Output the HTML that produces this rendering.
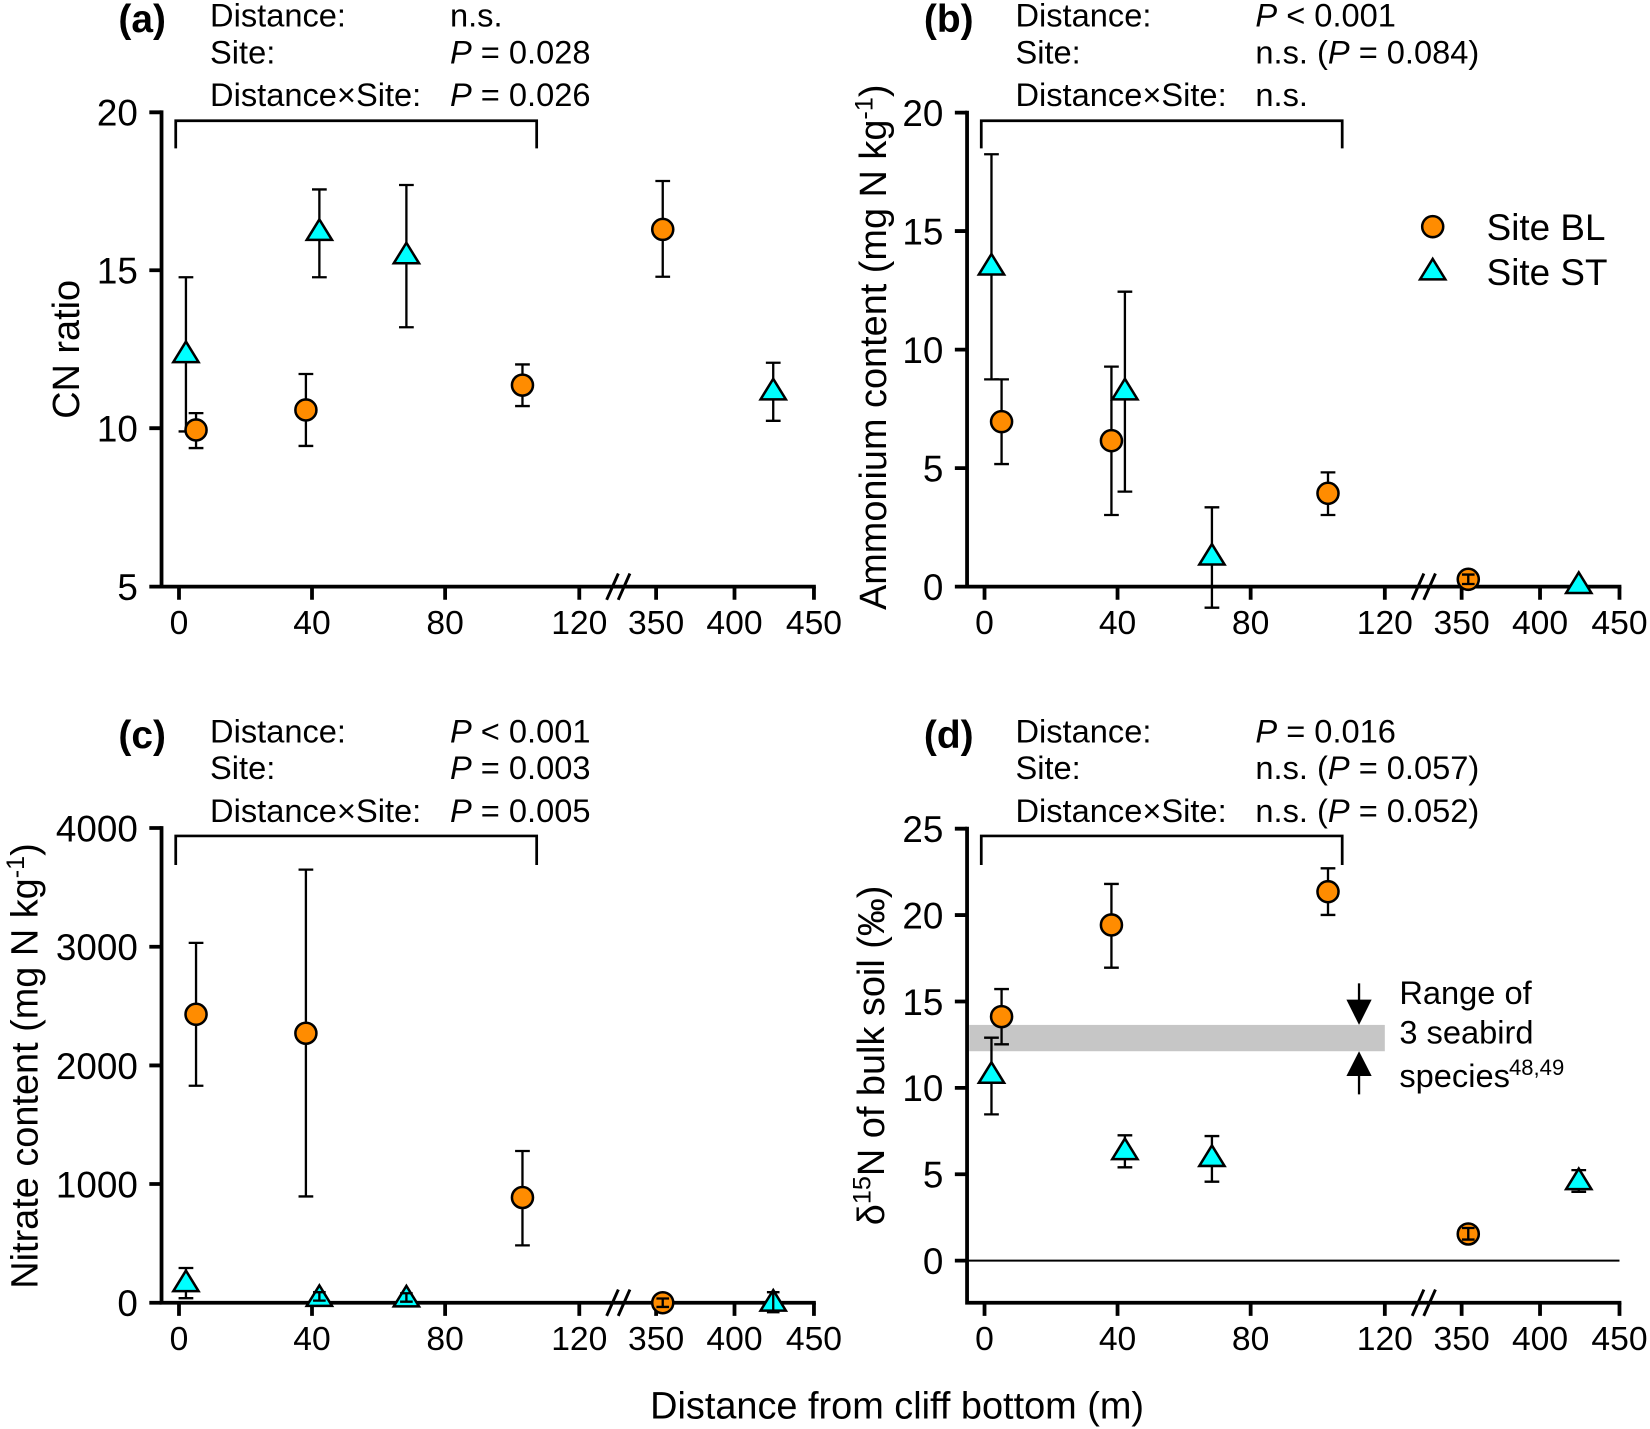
<!DOCTYPE html>
<html>
<head>
<meta charset="utf-8">
<style>
html,body{margin:0;padding:0;background:#fff;}
svg{display:block;}
text{font-family:"Liberation Sans",Arial,sans-serif;fill:#000;}
</style>
</head>
<body>
<svg width="1650" height="1429" viewBox="0 0 1568 1358" preserveAspectRatio="none" xmlns="http://www.w3.org/2000/svg">
<defs>
<circle id="c" cx="0" cy="0" r="10" fill="#ff8c00" stroke="#000" stroke-width="2.4"/>
<path id="t" d="M0,-10 L12,9.5 L-12,9.5 Z" fill="#00ffff" stroke="#000" stroke-width="2.4" stroke-linejoin="miter"/>
</defs>
<rect x="0" y="0" width="1568" height="1358" fill="#fff"/>

<!-- gray band and zero line (d) -->
<rect x="921" y="974" width="395" height="25" fill="#c6c6c6"/>
<line x1="919" y1="1198" x2="1539" y2="1198" stroke="#000" stroke-width="2"/>

<!-- ===== AXES ===== -->
<g fill="none" stroke="#000" stroke-width="3.6">
  <!-- (a) -->
  <path d="M153.5,104.9V559.3 M151.7,557.5H775.3"/>
  <path d="M141.9,106.75H153.5 M141.9,256.8H153.5 M141.9,406.9H153.5 M141.9,557.5H153.5"/>
  <path d="M170.1,557.5V570 M296.5,557.5V570 M423,557.5V570 M550.5,557.5V570 M623.5,557.5V570 M698,557.5V570 M773.5,557.5V570"/>
  <!-- (b) -->
  <path d="M919,105.2V559.3 M917.2,557.5H1540.8"/>
  <path d="M907.4,107H919 M907.4,219.6H919 M907.4,332.25H919 M907.4,444.9H919 M907.4,557.5H919"/>
  <path d="M935.6,557.5V570 M1062,557.5V570 M1188.5,557.5V570 M1316,557.5V570 M1389,557.5V570 M1463.5,557.5V570 M1539,557.5V570"/>
  <!-- (c) -->
  <path d="M153.5,785.1V1239.8 M151.7,1238H775.3"/>
  <path d="M141.9,786.9H153.5 M141.9,899.7H153.5 M141.9,1012.5H153.5 M141.9,1125.2H153.5 M141.9,1238H153.5"/>
  <path d="M170.1,1238V1250.5 M296.5,1238V1250.5 M423,1238V1250.5 M550.5,1238V1250.5 M623.5,1238V1250.5 M698,1238V1250.5 M773.5,1238V1250.5"/>
  <!-- (d) -->
  <path d="M919,785.7V1239.8 M917.2,1238H1540.8"/>
  <path d="M907.4,787.5H919 M907.4,869.6H919 M907.4,951.7H919 M907.4,1033.8H919 M907.4,1115.9H919 M907.4,1198H919"/>
  <path d="M935.6,1238V1250.5 M1062,1238V1250.5 M1188.5,1238V1250.5 M1316,1238V1250.5 M1389,1238V1250.5 M1463.5,1238V1250.5 M1539,1238V1250.5"/>
</g>
<!-- axis breaks -->
<g fill="none" stroke="#000" stroke-width="2.8">
  <path d="M576.5,570L587.6,545 M587.5,570L598.6,545"/>
  <path d="M1342,570L1353.1,545 M1353,570L1364.1,545"/>
  <path d="M576.5,1250.5L587.6,1225.5 M587.5,1250.5L598.6,1225.5"/>
  <path d="M1342,1250.5L1353.1,1225.5 M1353,1250.5L1364.1,1225.5"/>
</g>
<!-- brackets -->
<g fill="none" stroke="#000" stroke-width="2.6">
  <path d="M167,141V114.7H510V141"/>
  <path d="M932.5,141V114.7H1275.5V141"/>
  <path d="M167,822V794.4H510V822"/>
  <path d="M932.5,822V794.4H1275.5V822"/>
</g>

<!-- ===== TICK LABELS ===== -->
<g font-size="35" text-anchor="end">
  <text x="131" y="119.5">20</text><text x="131" y="269.5">15</text><text x="131" y="419.6">10</text><text x="131" y="570.2">5</text>
  <text x="896.5" y="119.7">20</text><text x="896.5" y="232.3">15</text><text x="896.5" y="345">10</text><text x="896.5" y="457.6">5</text><text x="896.5" y="570.2">0</text>
  <text x="131" y="799.6">4000</text><text x="131" y="912.4">3000</text><text x="131" y="1025.2">2000</text><text x="131" y="1137.9">1000</text><text x="131" y="1250.7">0</text>
  <text x="896.5" y="800.2">25</text><text x="896.5" y="882.3">20</text><text x="896.5" y="964.4">15</text><text x="896.5" y="1046.5">10</text><text x="896.5" y="1128.6">5</text><text x="896.5" y="1210.7">0</text>
</g>
<g font-size="32" text-anchor="middle">
  <text x="170.1" y="602.5">0</text><text x="296.5" y="602.5">40</text><text x="423" y="602.5">80</text><text x="550.5" y="602.5">120</text><text x="623.5" y="602.5">350</text><text x="698" y="602.5">400</text><text x="773.5" y="602.5">450</text>
  <text x="935.6" y="602.5">0</text><text x="1062" y="602.5">40</text><text x="1188.5" y="602.5">80</text><text x="1316" y="602.5">120</text><text x="1389" y="602.5">350</text><text x="1463.5" y="602.5">400</text><text x="1539" y="602.5">450</text>
  <text x="170.1" y="1283">0</text><text x="296.5" y="1283">40</text><text x="423" y="1283">80</text><text x="550.5" y="1283">120</text><text x="623.5" y="1283">350</text><text x="698" y="1283">400</text><text x="773.5" y="1283">450</text>
  <text x="935.6" y="1283">0</text><text x="1062" y="1283">40</text><text x="1188.5" y="1283">80</text><text x="1316" y="1283">120</text><text x="1389" y="1283">350</text><text x="1463.5" y="1283">400</text><text x="1539" y="1283">450</text>
</g>

<!-- ===== AXIS TITLES ===== -->
<g font-size="36" text-anchor="middle">
  <text transform="translate(75,332) rotate(-90)">CN ratio</text>
  <text transform="translate(842,330) rotate(-90)">Ammonium content (mg N kg<tspan dy="-13" font-size="24">-1</tspan><tspan dy="13">)</tspan></text>
  <text transform="translate(35.6,1013) rotate(-90)">Nitrate content (mg N kg<tspan dy="-13" font-size="24">-1</tspan><tspan dy="13">)</tspan></text>
  <text transform="translate(840,1003) rotate(-90)">δ<tspan dy="-13" font-size="24">15</tspan><tspan dy="13">N of bulk soil (‰)</tspan></text>
  <text x="852.5" y="1348">Distance from cliff bottom (m)</text>
</g>

<!-- ===== PANEL LETTERS & STATS ===== -->
<g font-size="37" font-weight="bold">
  <text x="112.5" y="30.5">(a)</text>
  <text x="878" y="30.5">(b)</text>
  <text x="112.5" y="711">(c)</text>
  <text x="878" y="711">(d)</text>
</g>
<g font-size="31">
  <text x="199.6" y="25.3">Distance:</text>
  <text x="199.6" y="60.2">Site:</text>
  <text x="199.6" y="100.7">Distance×Site:</text>
  <text x="427.6" y="25.3">n.s.</text>
  <text x="427.6" y="60.2"><tspan font-style="italic">P</tspan> = 0.028</text>
  <text x="427.6" y="100.7"><tspan font-style="italic">P</tspan> = 0.026</text>

  <text x="965" y="25.3">Distance:</text>
  <text x="965" y="60.2">Site:</text>
  <text x="965" y="100.7">Distance×Site:</text>
  <text x="1193" y="25.3"><tspan font-style="italic">P</tspan> &lt; 0.001</text>
  <text x="1193" y="60.2">n.s. (<tspan font-style="italic">P</tspan> = 0.084)</text>
  <text x="1193" y="100.7">n.s.</text>

  <text x="199.6" y="705.6">Distance:</text>
  <text x="199.6" y="740.5">Site:</text>
  <text x="199.6" y="781">Distance×Site:</text>
  <text x="427.6" y="705.6"><tspan font-style="italic">P</tspan> &lt; 0.001</text>
  <text x="427.6" y="740.5"><tspan font-style="italic">P</tspan> = 0.003</text>
  <text x="427.6" y="781"><tspan font-style="italic">P</tspan> = 0.005</text>

  <text x="965" y="705.6">Distance:</text>
  <text x="965" y="740.5">Site:</text>
  <text x="965" y="781">Distance×Site:</text>
  <text x="1193" y="705.6"><tspan font-style="italic">P</tspan> = 0.016</text>
  <text x="1193" y="740.5">n.s. (<tspan font-style="italic">P</tspan> = 0.057)</text>
  <text x="1193" y="781">n.s. (<tspan font-style="italic">P</tspan> = 0.052)</text>

  <text x="1329.8" y="954">Range of</text>
  <text x="1329.8" y="991.5">3 seabird</text>
  <text x="1329.8" y="1033">species</text>
</g>
<text x="1434" y="1021.6" font-size="21">48,49</text>

<!-- arrows (d) -->
<g fill="#000" stroke="#000">
  <line x1="1291.5" y1="934.5" x2="1291.5" y2="952" stroke-width="2.2"/>
  <polygon points="1279.5,950 1303.5,950 1291.5,974" stroke="none"/>
  <polygon points="1291.5,999 1279.5,1022.5 1303.5,1022.5" stroke="none"/>
  <line x1="1291.5" y1="1021" x2="1291.5" y2="1040" stroke-width="2.2"/>
</g>

<!-- legend -->
<use href="#c" x="1361.5" y="215.4"/>
<use href="#t" x="1361.5" y="256"/>
<text x="1412.8" y="228" font-size="35">Site BL</text>
<text x="1412.8" y="270.8" font-size="35">Site ST</text>

<!-- ===== DATA ===== -->
<!-- (a) ST -->
<use href="#t" x="176.7" y="334.6"/>
<use href="#t" x="303.5" y="218.5"/>
<use href="#t" x="386.2" y="240.7"/>
<use href="#t" x="734.8" y="370"/>
<path fill="none" stroke="#000" stroke-width="2.2" d="
M176.7,263.5V324.6 M176.7,344.1V410 M169.7,263.5H183.7 M169.7,410H183.7
M303.5,180V208.5 M303.5,228V263.5 M296.5,180H310.5 M296.5,263.5H310.5
M386.2,175.8V230.7 M386.2,250.2V311 M379.2,175.8H393.2 M379.2,311H393.2
M734.8,344.7V360 M734.8,379.5V399.9 M727.8,344.7H741.8 M727.8,399.9H741.8"/>
<!-- (a) BL -->
<use href="#c" x="186.3" y="408.6"/>
<use href="#c" x="290.7" y="389.6"/>
<use href="#c" x="496.5" y="366"/>
<use href="#c" x="629.8" y="218"/>
<path fill="none" stroke="#000" stroke-width="2.2" d="
M186.3,392.6V398.6 M186.3,418.6V425.8 M179.3,392.6H193.3 M179.3,425.8H193.3
M290.7,355.4V379.6 M290.7,399.6V423.8 M283.7,355.4H297.7 M283.7,423.8H297.7
M496.5,346.3V356 M496.5,376V385.9 M489.5,346.3H503.5 M489.5,385.9H503.5
M629.8,172V208 M629.8,228V263 M622.8,172H636.8 M622.8,263H636.8"/>

<!-- (b) ST -->
<use href="#t" x="942.2" y="251.4"/>
<use href="#t" x="1069" y="370"/>
<use href="#t" x="1151.7" y="527"/>
<use href="#t" x="1500.3" y="554"/>
<path fill="none" stroke="#000" stroke-width="2.2" d="
M942.2,146.6V241.4 M942.2,260.9V360.5 M935.2,146.6H949.2 M935.2,360.5H949.2
M1069,277.2V360 M1069,379.5V467.2 M1062,277.2H1076 M1062,467.2H1076
M1151.7,482.1V517 M1151.7,536.5V577.5 M1144.7,482.1H1158.7 M1144.7,577.5H1158.7"/>
<!-- (b) BL -->
<use href="#c" x="951.8" y="400.7"/>
<use href="#c" x="1056.2" y="418.8"/>
<use href="#c" x="1262" y="468.8"/>
<use href="#c" x="1395.3" y="550.5"/>
<path fill="none" stroke="#000" stroke-width="2.2" d="
M951.8,360.5V390.7 M951.8,410.7V441 M944.8,360.5H958.8 M944.8,441H958.8
M1056.2,348.4V408.8 M1056.2,428.8V489.4 M1049.2,348.4H1063.2 M1049.2,489.4H1063.2
M1262,448.9V458.8 M1262,478.8V489.4 M1255,448.9H1269 M1255,489.4H1269
M1395.3,546V555 M1389.3,546H1401.3 M1389.3,555H1401.3"/>

<!-- (c) ST -->
<use href="#t" x="176.7" y="1217.5"/>
<use href="#t" x="303.5" y="1231.5"/>
<use href="#t" x="386.2" y="1232"/>
<use href="#t" x="734.8" y="1236"/>
<path fill="none" stroke="#000" stroke-width="2.2" d="
M176.7,1205V1207.5 M176.7,1227V1233.7 M169.7,1205H183.7 M169.7,1233.7H183.7
M303.5,1228V1236 M297.5,1228H309.5 M297.5,1236H309.5
M386.2,1229V1237 M380.2,1229H392.2 M380.2,1237H392.2
M734.8,1228V1247 M728.8,1228H740.8 M728.8,1247H740.8"/>
<!-- (c) BL -->
<use href="#c" x="186.3" y="963.9"/>
<use href="#c" x="290.7" y="981.9"/>
<use href="#c" x="496.5" y="1138"/>
<use href="#c" x="629.8" y="1238"/>
<path fill="none" stroke="#000" stroke-width="2.2" d="
M186.3,896V953.9 M186.3,973.9V1031.8 M179.3,896H193.3 M179.3,1031.8H193.3
M290.7,826.4V971.9 M290.7,991.9V1137 M283.7,826.4H297.7 M283.7,1137H297.7
M496.5,1093.8V1128 M496.5,1148V1183.5 M489.5,1093.8H503.5 M489.5,1183.5H503.5
M629.8,1234V1242 M623.8,1234H635.8 M623.8,1242H635.8"/>

<!-- (d) ST -->
<use href="#t" x="942.2" y="1019.5"/>
<use href="#t" x="1069" y="1092"/>
<use href="#t" x="1151.7" y="1098.5"/>
<use href="#t" x="1500.3" y="1120.5"/>
<path fill="none" stroke="#000" stroke-width="2.2" d="
M942.2,986.1V1009.5 M942.2,1029V1059 M935.2,986.1H949.2 M935.2,1059H949.2
M1069,1078.9V1082 M1069,1101.5V1109.3 M1062,1078.9H1076 M1062,1109.3H1076
M1151.7,1079.6V1088.5 M1151.7,1108V1123 M1144.7,1079.6H1158.7 M1144.7,1123H1158.7
M1500.3,1130V1132.6 M1493.3,1112H1507.3 M1493.3,1132.6H1507.3"/>
<!-- (d) BL -->
<use href="#c" x="951.8" y="966.1"/>
<use href="#c" x="1056.2" y="879"/>
<use href="#c" x="1262" y="847.4"/>
<use href="#c" x="1395.3" y="1172.7"/>
<path fill="none" stroke="#000" stroke-width="2.2" d="
M951.8,939.9V956.1 M951.8,976.1V992.4 M944.8,939.9H958.8 M944.8,992.4H958.8
M1056.2,840V869 M1056.2,889V919.6 M1049.2,840H1063.2 M1049.2,919.6H1063.2
M1262,825.2V837.4 M1262,857.4V869.5 M1255,825.2H1269 M1255,869.5H1269
M1395.3,1167V1178 M1389.3,1167H1401.3 M1389.3,1178H1401.3"/>
</svg>
</body>
</html>
